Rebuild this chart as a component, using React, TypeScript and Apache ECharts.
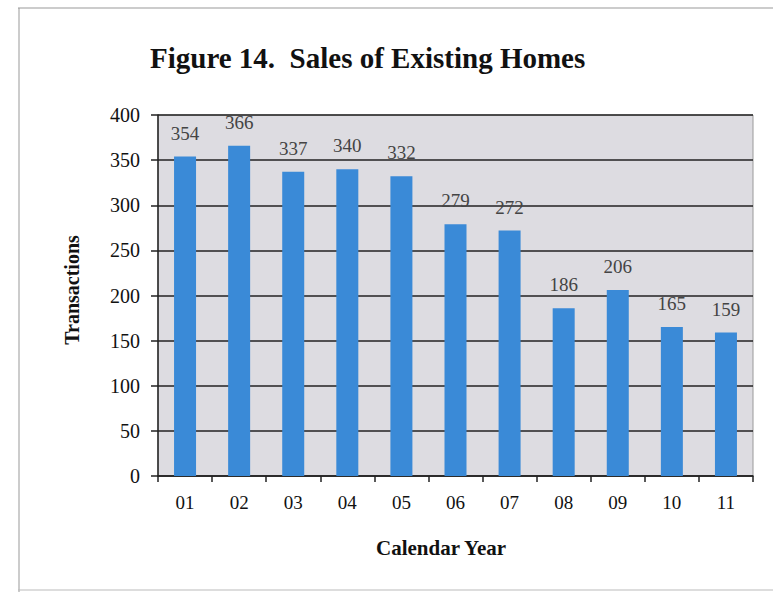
import React, { useEffect, useRef } from "react";
import * as echarts from "echarts";

const categories = ["01", "02", "03", "04", "05", "06", "07", "08", "09", "10", "11"];
const transactions = [354, 366, 337, 340, 332, 279, 272, 186, 206, 165, 159];
const yTicks = [0, 50, 100, 150, 200, 250, 300, 350, 400];

const SERIF = "'Liberation Serif', 'Times New Roman', serif";

export default function App() {
  const ref = useRef<HTMLDivElement>(null);
  useEffect(() => {
    if (!ref.current) return;
    const chart = echarts.init(ref.current, null, { renderer: "svg" });
    chart.setOption({
      animation: false,
      backgroundColor: "#ffffff",
      title: {
        text: "Figure 14.  Sales of Existing Homes",
        left: 145,
        top: 38,
        textStyle: { fontFamily: SERIF, fontWeight: "bold", fontSize: 29, color: "#111" },
      },
      grid: { left: 158, top: 115, right: 20, bottom: 116, show: true, backgroundColor: "#dddce1", borderColor: "#9a9a9a", borderWidth: 1 },
      xAxis: {
        type: "category",
        data: categories,
        boundaryGap: true,
        axisLine: { lineStyle: { color: "#222", width: 1.5 } },
        axisTick: { show: true, length: 6, lineStyle: { color: "#222", width: 1.5 } },
        axisLabel: { fontFamily: SERIF, fontSize: 19, color: "#111", margin: 17 },
      },
      yAxis: {
        type: "value",
        min: yTicks[0],
        max: yTicks[yTicks.length - 1],
        interval: 50,
        axisLine: { show: true, lineStyle: { color: "#222", width: 1.5 } },
        axisTick: { show: true, length: 7, lineStyle: { color: "#222", width: 1.5 } },
        axisLabel: { fontFamily: SERIF, fontSize: 20, color: "#111", margin: 18 },
        splitLine: { show: true, lineStyle: { color: "#222", width: 1.5 } },
      },
      series: [
        {
          type: "bar",
          data: transactions,
          barWidth: 22,
          itemStyle: { color: "#3a8ad7" },
          label: {
            show: true,
            position: "top",
            distance: 14,
            fontFamily: SERIF,
            fontSize: 19,
            color: "#444",
          },
        },
      ],
      graphic: [
        { type: "line", shape: { x1: 18, y1: 8, x2: 773, y2: 8 }, style: { stroke: "#999", lineWidth: 1 } },
        { type: "line", shape: { x1: 19, y1: 8, x2: 19, y2: 592 }, style: { stroke: "#999", lineWidth: 1 } },
        { type: "line", shape: { x1: 18, y1: 590, x2: 773, y2: 590 }, style: { stroke: "#bbb", lineWidth: 1 } },
        {
          type: "text",
          x: 72,
          y: 290,
          rotation: Math.PI / 2,
          style: {
            text: "Transactions",
            fontFamily: SERIF,
            fontWeight: "bold",
            fontSize: 20,
            fill: "#111",
            align: "center",
            verticalAlign: "middle",
          },
        },
        {
          type: "text",
          x: 441,
          y: 548,
          style: {
            text: "Calendar Year",
            fontFamily: SERIF,
            fontWeight: "bold",
            fontSize: 21,
            fill: "#111",
            align: "center",
            verticalAlign: "middle",
          },
        },
      ],
    });
    return () => chart.dispose();
  }, []);
  return <div ref={ref} style={{ width: 773, height: 592, position: "absolute", left: 0, top: 0 }} />;
}
